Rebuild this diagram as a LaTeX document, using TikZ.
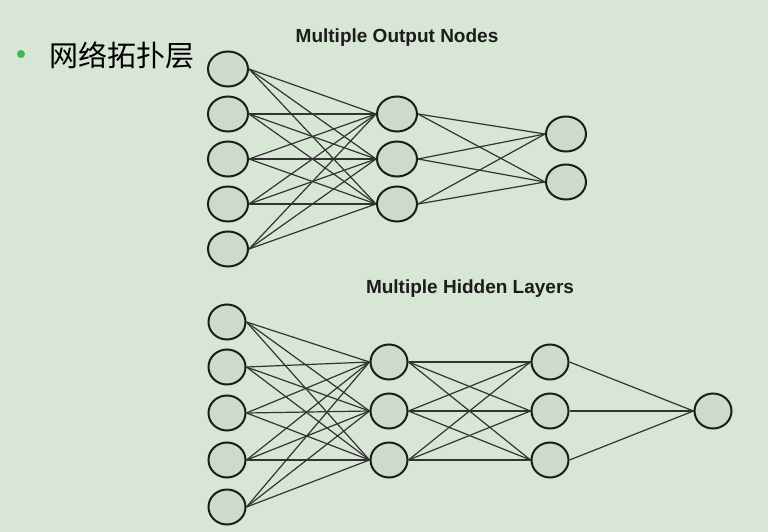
\documentclass[tikz,border=0pt]{standalone}
\usepackage{fontspec}
\setmainfont{Liberation Sans}
\newfontfamily\cjkfont{Noto Sans CJK SC}
\definecolor{paleback}{RGB}{216,230,213}
\definecolor{cellfill}{RGB}{205,219,202}
\definecolor{dotgreen}{RGB}{62,182,82}
\definecolor{inkgray}{RGB}{28,28,28}
\usetikzlibrary{shapes.geometric}

\begin{document}
\begin{tikzpicture}[x=1pt, y=-1pt,
  neuron/.style={ellipse, draw=inkgray, fill=cellfill, line width=2pt,
    minimum width=40pt, minimum height=35pt, inner sep=0pt},
  roundneuron/.style={neuron, minimum width=37pt, minimum height=35pt},
  link/.style={draw=inkgray!90, line width=1.2pt},
  heading/.style={font=\bfseries\fontsize{19}{21}\selectfont, text=inkgray},
]
  \useasboundingbox (0,0) rectangle (768,532);
  \fill[paleback] (0,0) rectangle (768,532);

  % bullet line
  \fill[dotgreen] (21,54) circle (4);
  \node[anchor=west, inner sep=0pt, font=\cjkfont\fontsize{29}{31}\selectfont] (caption) at (49,55) {网络拓扑层};

  % multiple output nodes
  \node[heading] (titleA) at (397,38) {Multiple Output Nodes};
  \foreach \n/\y in {1/69, 2/114, 3/159, 4/204, 5/249}
    \node[neuron] (a\n) at (228,\y) {};
  \foreach \n/\y in {1/114, 2/159, 3/204}
    \node[neuron] (ah\n) at (397,\y) {};
  \foreach \n/\y in {1/134, 2/182}
    \node[neuron] (ao\n) at (566,\y) {};
  \foreach \i in {1,...,5}
    \foreach \j in {1,2,3}
      \draw[link] (a\i.east) -- (ah\j.west);
  \foreach \i in {1,2,3}
    \foreach \j in {1,2}
      \draw[link] (ah\i.east) -- (ao\j.west);

  % multiple hidden layers
  \node[heading] (titleB) at (470,289) {Multiple Hidden Layers};
  \foreach \n/\y in {1/322, 2/367, 3/413, 4/460, 5/507}
    \node[roundneuron] (b\n) at (227,\y) {};
  \foreach \n/\y in {1/362, 2/411, 3/460}
    \node[roundneuron] (bh\n) at (389,\y) {};
  \foreach \n/\y in {1/362, 2/411, 3/460}
    \node[roundneuron] (bk\n) at (550,\y) {};
  \node[roundneuron] (bo) at (713,411) {};
  \foreach \i in {1,...,5}
    \foreach \j in {1,2,3}
      \draw[link] (b\i.east) -- (bh\j.west);
  \foreach \i in {1,2,3}
    \foreach \j in {1,2,3}
      \draw[link] (bh\i.east) -- (bk\j.west);
  \foreach \i in {1,2,3}
    \draw[link] (bk\i.east) -- (bo.west);
\end{tikzpicture}
\end{document}
